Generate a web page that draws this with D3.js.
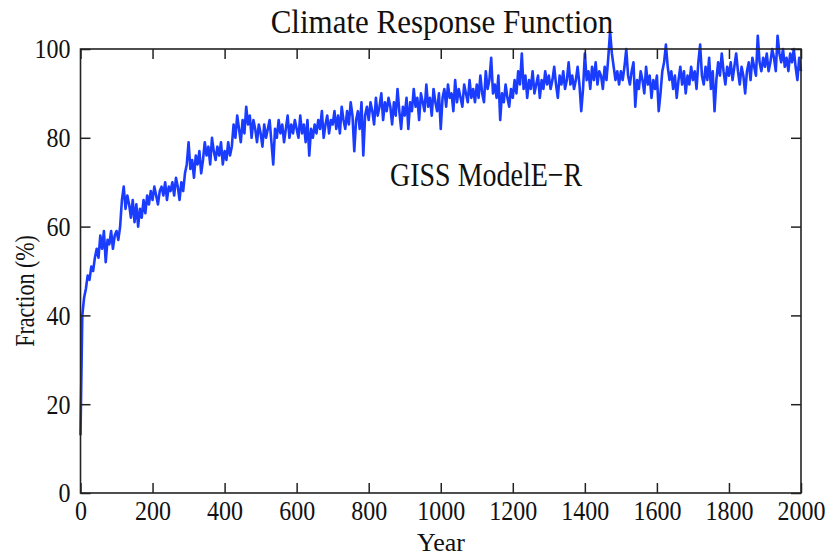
<!DOCTYPE html>
<html>
<head>
<meta charset="utf-8">
<script src="https://cdn.jsdelivr.net/npm/d3@7"></script>
<style>
body{margin:0;background:#fff;}
text{font-family:"Liberation Serif","Times New Roman",serif;fill:#111;}
.tall{transform-box:fill-box;transform-origin:center;transform:scaleY(1.2);}
.tick-tall{transform-box:fill-box;transform-origin:center;transform:scaleY(1.15);}
.title{transform-box:fill-box;transform-origin:center;transform:scaleY(1.1);}
</style>
</head>
<body>
<div id="chart"></div>
<script>
// yearly step of the sampled curve
var step = 5;
var fraction = [
 13,40,44,46,49,48,51,50,53,55,53,58,55,59,52,57,56,59,55,58,
 59,57,60,66,69,64,67,65,62,66,61,65,60,64,62,66,63,67,65,68,
 66,69,67,65,68,69,67,70,66,69,68,70,67,71,69,66,70,68,72,74,
 79,73,75,71,76,74,77,72,75,79,76,78,74,80,77,75,78,76,79,74,
 77,75,79,76,78,83,80,85,82,79,84,81,87,83,85,80,84,82,79,83,
 81,78,83,80,82,84,79,74,82,80,84,81,83,79,82,85,80,83,81,84,
 82,80,85,81,83,79,84,76,82,80,83,81,84,82,86,80,83,85,81,84,
 83,86,82,85,81,87,84,82,86,83,88,85,77,84,86,82,88,76,85,87,
 84,88,86,83,89,85,87,90,84,88,86,89,87,83,88,85,91,86,82,87,
 85,89,82,88,86,91,87,89,84,90,88,86,92,87,89,85,91,88,86,90,
 82,89,91,87,92,89,90,86,93,88,91,89,87,92,90,88,93,89,91,88,
 92,89,94,90,88,95,91,93,98,90,92,89,94,84,90,88,92,89,87,91,
 89,93,90,95,92,99,91,94,89,93,91,95,90,92,94,89,93,91,95,92,
 94,91,93,96,92,89,94,92,95,91,93,97,92,94,91,93,96,92,86,91,
 99,93,95,91,96,93,97,92,95,94,91,96,93,98,104,99,96,93,95,92,
 95,93,96,100,94,92,95,97,87,93,91,95,93,90,96,92,94,89,93,91,
 94,86,90,95,97,101,96,93,95,91,94,89,93,96,92,95,90,94,92,96,
 93,95,91,97,101,94,92,96,93,98,91,95,86,93,97,94,99,95,92,96,
 94,97,93,96,99,95,92,96,94,90,95,97,93,98,96,94,103,97,95,98,
 96,99,95,97,100,98,95,103,99,97,100,96,98,95,99,97,100,96,93,98,
 95
];
var xTicks = [0,200,400,600,800,1000,1200,1400,1600,1800,2000];
var yTicks = [0,20,40,60,80,100];

var W = 830, H = 558;
var m = {left:80.5, right:29, top:49, bottom:65};

var svg = d3.select("#chart").append("svg").attr("width",W).attr("height",H);

var x = d3.scaleLinear().domain([0,2000]).range([m.left, W-m.right]);
var y = d3.scaleLinear().domain([0,100]).range([H-m.bottom, m.top]);

var data = fraction.map(function(v,i){ return {yr:i*step, v:v}; });

// curve
var line = d3.line().x(function(d){return x(d.yr);}).y(function(d){return y(d.v);});
svg.append("path").datum(data)
  .attr("d",line)
  .attr("fill","none")
  .attr("stroke","#1a3cff")
  .attr("stroke-width",2.6)
  .attr("stroke-linejoin","round");

// axes, ticks pointing inward on all sides
var fs = "24px";
svg.append("g").attr("transform","translate(0,"+(H-m.bottom)+")")
  .call(d3.axisBottom(x).tickValues(xTicks).tickFormat(d3.format("d")).tickSizeInner(-10).tickSizeOuter(0).tickPadding(9))
  .call(function(g){ g.select(".domain").remove(); g.selectAll("text").attr("class","tick-tall").style("font-size",fs).attr("font-family",null); });
svg.append("g").attr("transform","translate(0,"+m.top+")")
  .call(d3.axisTop(x).tickValues(xTicks).tickSizeInner(-10).tickSizeOuter(0).tickFormat(""))
  .call(function(g){ g.select(".domain").remove(); });
svg.append("g").attr("transform","translate("+m.left+",0)")
  .call(d3.axisLeft(y).tickValues(yTicks).tickSizeInner(-10).tickSizeOuter(0).tickPadding(10))
  .call(function(g){ g.select(".domain").remove(); g.selectAll("text").attr("class","tick-tall").style("font-size",fs).attr("font-family",null); });
svg.append("g").attr("transform","translate("+(W-m.right)+",0)")
  .call(d3.axisRight(y).tickValues(yTicks).tickSizeInner(-10).tickSizeOuter(0).tickFormat(""))
  .call(function(g){ g.select(".domain").remove(); });
svg.selectAll(".tick line").attr("stroke","#222").attr("stroke-width",1.5);

svg.append("rect")
  .attr("x",m.left).attr("y",m.top)
  .attr("width",W-m.right-m.left).attr("height",H-m.bottom-m.top)
  .attr("fill","none").attr("stroke","#222").attr("stroke-width",1.6);

// texts
svg.append("text").attr("class","title").attr("x",442).attr("y",32).attr("text-anchor","middle")
  .style("font-size","31px").text("Climate Response Function");
svg.append("text").attr("x",441).attr("y",551).attr("text-anchor","middle")
  .style("font-size","26px").text("Year");
svg.append("g").attr("transform","translate(33,291) rotate(-90)")
  .append("text").attr("class","tall").attr("text-anchor","middle")
  .style("font-size","22px").text("Fraction (%)");
svg.append("text").attr("class","tall").attr("x",390).attr("y",184)
  .style("font-size","28px").text("GISS ModelE\u2212R");
</script>
</body>
</html>
